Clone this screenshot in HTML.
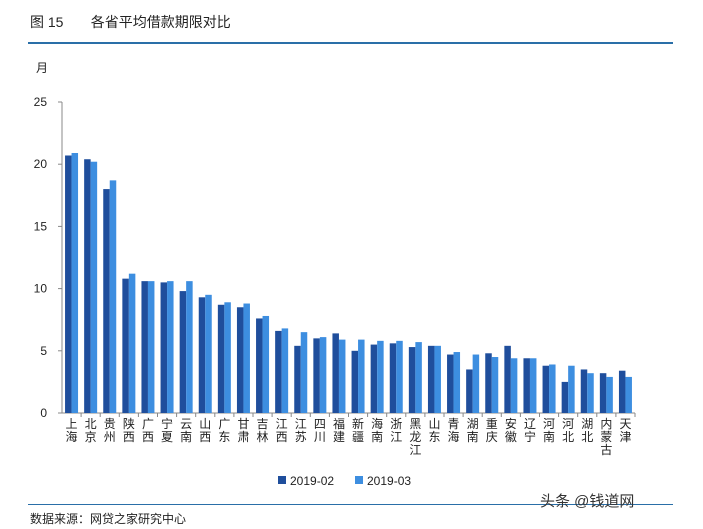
<!DOCTYPE html>
<html><head><meta charset="utf-8"><style>
body{margin:0;width:703px;height:529px;background:#fff;font-family:"Liberation Sans","Noto Sans CJK SC",sans-serif;overflow:hidden;position:relative}
</style></head><body>
<div style="position:absolute;left:30px;top:12px;font-size:14px;color:#222">图 15&nbsp;&nbsp;&nbsp;&nbsp;&nbsp;&nbsp;&nbsp;各省平均借款期限对比</div>
<div style="position:absolute;left:28px;top:42px;width:645px;height:2px;background:#2a6fa8"></div>
<svg width="703" height="529" style="position:absolute;left:0;top:0" id="c"></svg>
<div style="position:absolute;left:28px;top:504px;width:645px;height:1px;background:#2a6fa8"></div>
<div style="position:absolute;left:30px;top:510px;font-size:12px;color:#222">数据来源：网贷之家研究中心</div>
<div style="position:absolute;left:540px;top:490px;font-size:15px;color:#333">头条 @钱道网</div>
<script>
const categories=["上海","北京","贵州","陕西","广西","宁夏","云南","山西","广东","甘肃","吉林","江西","江苏","四川","福建","新疆","海南","浙江","黑龙江","山东","青海","湖南","重庆","安徽","辽宁","河南","河北","湖北","内蒙古","天津"];
const s1902=[20.7,20.4,18.0,10.8,10.6,10.5,9.8,9.3,8.7,8.5,7.6,6.6,5.4,6.0,6.4,5.0,5.5,5.6,5.3,5.4,4.7,3.5,4.8,5.4,4.4,3.8,2.5,3.5,3.2,3.4];
const s1903=[20.9,20.2,18.7,11.2,10.6,10.6,10.6,9.5,8.9,8.8,7.8,6.8,6.5,6.1,5.9,5.9,5.8,5.8,5.7,5.4,4.9,4.7,4.5,4.4,4.4,3.9,3.8,3.2,2.9,2.9];
const yTicks=[0,5,10,15,20,25];
const svg=document.getElementById('c'),NS="http://www.w3.org/2000/svg";
const x0=62,x1=635,y0=413,yTop=102,ymax=25;
const y=v=>y0-(v/ymax)*(y0-yTop);
const step=(x1-x0)/categories.length;
function mk(t,a,p){const e=document.createElementNS(NS,t);for(const k in a)e.setAttribute(k,a[k]);(p||svg).appendChild(e);return e;}
const yl=mk('text',{x:36,y:72,'font-size':12,fill:'#222'});yl.textContent='月';


const ax=mk('line',{x1:x0,y1:yTop,x2:x0,y2:y0,stroke:'#888'});


const bx=mk('line',{x1:x0,y1:y0,x2:x1,y2:y0,stroke:'#888'});


yTicks.forEach(t=>{mk('line',{x1:x0-4,y1:y(t),x2:x0,y2:y(t),stroke:'#888'});
const tx=mk('text',{x:x0-15,y:y(t)+4,'font-size':12,'text-anchor':'end',fill:'#222'});tx.textContent=t;

});
categories.forEach((c,i)=>{const cx=x0+step*(i+0.5);
mk('line',{x1:x0+step*(i+1),y1:y0,x2:x0+step*(i+1),y2:y0+4,stroke:'#888'});
const b1=mk('rect',{x:cx-6.5,y:y(s1902[i]),width:6.5,height:y0-y(s1902[i]),fill:'#1f4e9c'});


const b2=mk('rect',{x:cx,y:y(s1903[i]),width:6.5,height:y0-y(s1903[i]),fill:'#3d8ee0'});


[...c].forEach((ch,j)=>{const t=mk('text',{x:cx,y:y0+15+j*13,'font-size':12,'text-anchor':'middle',fill:'#222'});t.textContent=ch;

});});
[['2019-02','#1f4e9c',278],['2019-03','#3d8ee0',355]].forEach(([n,col,lx])=>{
const r=mk('rect',{x:lx,y:476,width:8,height:8,fill:col});


const t=mk('text',{x:lx+12,y:485,'font-size':12,fill:'#222'});t.textContent=n;

});
</script>
</body></html>
